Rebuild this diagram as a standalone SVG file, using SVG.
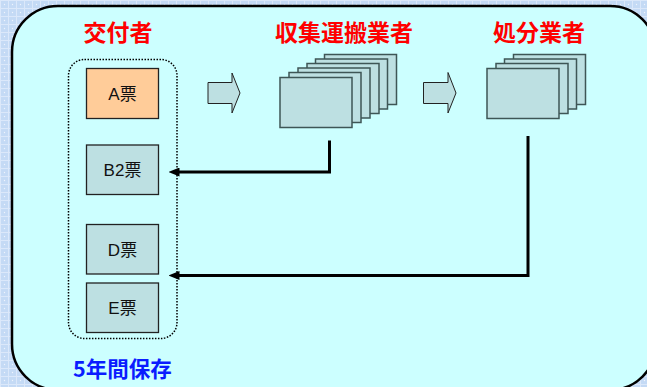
<svg xmlns="http://www.w3.org/2000/svg" width="647" height="387" viewBox="0 0 647 387">
<defs>
<pattern id="grid" width="8" height="8" patternUnits="userSpaceOnUse">
<rect width="8" height="8" fill="#c4daf5"/>
<path d="M0 0.5H8M0.5 0V8" stroke="#dbe8fa" stroke-width="1"/>
<circle cx="4.5" cy="4.5" r="0.7" fill="#eef4fd"/>
</pattern>
<marker id="ah" viewBox="0 0 11 9" refX="0.5" refY="4.5" markerWidth="11" markerHeight="9" markerUnits="userSpaceOnUse" orient="auto">
<path d="M0 0 L11 4.5 L0 9 Z" fill="#000"/>
</marker>
<rect id="page" width="72" height="50" fill="#bde0e2" stroke="#3e5656" stroke-width="1.5"/>
</defs>
<style>
.title{font-family:"Noto Sans CJK JP","Noto Sans CJK SC",sans-serif;font-weight:bold;font-size:23px;fill:#ff0000;text-anchor:middle}
.lbl{font-family:"Liberation Sans","Noto Sans CJK JP",sans-serif;font-size:17px;fill:#111;text-anchor:middle}
.box{stroke:#222;stroke-width:1.3}
.conn{fill:none;stroke:#000;stroke-width:3}
.blk{fill:#bde0e2;stroke:#222;stroke-width:1}
</style>
<rect width="647" height="387" fill="url(#grid)"/>
<rect x="12" y="6" width="644" height="384" rx="46" ry="46" fill="#ccffff" stroke="#000" stroke-width="2.5"/>
<g id="titles">
<text class="title" x="118" y="41">交付者</text>
<text class="title" x="344" y="41">収集運搬業者</text>
<text class="title" x="539" y="41">処分業者</text>
</g>
<g id="storage">
<rect x="68.5" y="59.5" width="108.5" height="279" rx="16" fill="none" stroke="#000" stroke-width="1.5" stroke-dasharray="1.5 1.5"/>
<text x="73" y="377" font-family="Noto Sans CJK JP, sans-serif" font-weight="bold" font-size="21.5" fill="#0a1cff">5年間保存</text>
</g>
<g id="A">
<rect class="box" x="86.5" y="68.5" width="72" height="50" fill="#ffcc99"/>
<text class="lbl" x="122.5" y="100">A票</text>
</g>
<g id="B2">
<rect class="box" x="86.5" y="145" width="72" height="49.5" fill="#bde0e2"/>
<text class="lbl" x="122.5" y="176">B2票</text>
</g>
<g id="D">
<rect class="box" x="86.5" y="224.5" width="72" height="49.5" fill="#bde0e2"/>
<text class="lbl" x="122.5" y="255.5">D票</text>
</g>
<g id="E">
<rect class="box" x="86.5" y="283" width="72" height="49.5" fill="#bde0e2"/>
<text class="lbl" x="122.5" y="314">E票</text>
</g>
<g id="collector">
<use href="#page" x="324.5" y="54.5"/>
<use href="#page" x="315.5" y="59"/>
<use href="#page" x="307" y="63.5"/>
<use href="#page" x="298" y="68"/>
<use href="#page" x="289" y="72.5"/>
<use href="#page" x="280" y="77.5"/>
</g>
<g id="disposer">
<use href="#page" x="513.5" y="54.5"/>
<use href="#page" x="504.5" y="59"/>
<use href="#page" x="496" y="63.5"/>
<use href="#page" x="487" y="68.5"/>
</g>
<g id="connectors">
<path class="blk" d="M208 82.5H232V73L240 93L232 113V103.5H208Z"/>
<path class="blk" d="M423.5 82.5H448V72.5L456 93L448 113V103.5H423.5Z"/>
<path class="conn" d="M329.5 140.5V172H179" marker-end="url(#ah)"/>
<path class="conn" d="M528 136V275.5H179" marker-end="url(#ah)"/>
</g>
</svg>
